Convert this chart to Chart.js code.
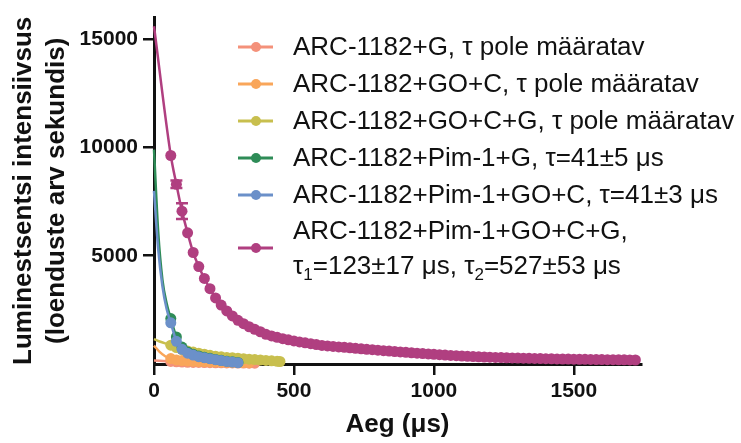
<!DOCTYPE html>
<html>
<head>
<meta charset="utf-8">
<script src="https://cdn.jsdelivr.net/npm/chart.js@4.4.1/dist/chart.umd.min.js"></script>
<style>
    html, body { margin: 0; padding: 0; background: #fff; }
    #wrap { position: relative; width: 741px; height: 443px; }
    #legend {
        position: absolute; left: 238px; top: 28px;
        font-family: "Liberation Sans", Arial, sans-serif; font-size: 26px;
        color: #111; white-space: nowrap;
    }
    .row { display: flex; align-items: center; line-height: 37px; }
    .row.two { line-height: 35px; }
    .row svg { flex: none; margin-right: 20px; }
    .row sub { font-size: 17px; line-height: 0; vertical-align: -6px; }
</style>
</head>
<body>
<div id="wrap">
    <canvas id="chart"></canvas>
    <div id="legend"></div>
</div>
<script>
// legend / series
const seriesLabels = [
    ["ARC-1182+G, τ pole määratav"],
    ["ARC-1182+GO+C, τ pole määratav"],
    ["ARC-1182+GO+C+G, τ pole määratav"],
    ["ARC-1182+Pim-1+G, τ=41±5 μs"],
    ["ARC-1182+Pim-1+GO+C, τ=41±3 μs"],
    ["ARC-1182+Pim-1+GO+C+G,", "τ<sub>1</sub>=123±17 μs, τ<sub>2</sub>=527±53 μs"]
];
const seriesColors = ["#F4917A", "#F9A65A", "#C8BF4E", "#2E8C57", "#6B90C9", "#B03F80"];

// time axis (μs) and intensities (counts per second)
const salmonT = [0, 60, 80, 100, 120, 140, 160, 180, 200, 220, 240, 260, 280, 300, 320, 340, 360];
const salmonY = [160, 120, 100, 90, 80, 75, 70, 65, 60, 55, 55, 50, 50, 45, 45, 40, 40];

const orangeT = [0, 20, 40, 60, 80, 100, 120, 140, 160, 180, 200, 220, 240, 260, 280, 300, 320, 340];
const orangeY = [850, 560, 360, 250, 190, 160, 140, 125, 115, 105, 95, 90, 85, 80, 75, 70, 65, 60];

const yellowT = [0, 20, 40, 60, 80, 100, 120, 140, 160, 180, 200, 220, 240, 260, 280, 300, 320, 340, 360, 380, 400, 420, 440, 450];
const yellowY = [1150, 1040, 950, 870, 760, 660, 600, 550, 500, 450, 400, 360, 330, 305, 285, 265, 245, 225, 205, 185, 165, 145, 125, 115];

const greenT = [0, 15, 30, 45, 60, 80, 100, 120, 140, 160, 180, 200, 220, 240, 260, 280, 300];
const greenY = [9900, 6100, 3900, 2800, 2100, 1250, 780, 560, 450, 370, 310, 260, 210, 170, 130, 100, 70];

const blueT = [0, 15, 30, 45, 60, 80, 100, 120, 140, 160, 180, 200, 220, 240, 260, 280, 300];
const blueY = [8000, 5300, 3600, 2550, 1900, 1050, 680, 500, 410, 340, 290, 245, 200, 160, 120, 90, 60];

const magentaT = [0, 60, 80, 100, 120, 140, 160, 180, 200, 220, 240, 260, 280, 300, 320, 340, 360, 380,
    400, 420, 440, 460, 480, 500, 520, 540, 560, 580, 600, 620, 640, 660, 680, 700, 720, 740, 760, 780,
    800, 820, 840, 860, 880, 900, 920, 940, 960, 980, 1000, 1020, 1040, 1060, 1080, 1100, 1120, 1140,
    1160, 1180, 1200, 1220, 1240, 1260, 1280, 1300, 1320, 1340, 1360, 1380, 1400, 1420, 1440, 1460,
    1480, 1500, 1520, 1540, 1560, 1580, 1600, 1620, 1640, 1660, 1680, 1700, 1720];
const magentaY = [15600, 9630, 8300, 7060, 6060, 5150, 4500, 3950, 3480, 3050, 2720, 2450, 2220, 2020, 1860, 1720, 1600, 1490,
    1370, 1295, 1230, 1170, 1115, 1065, 1020, 977, 937, 898, 860, 835, 812, 790, 768, 746, 724, 702, 680, 659,
    638, 617, 597, 577, 557, 538, 519, 500, 482, 464, 447, 430, 414, 398, 383, 369, 356, 344,
    333, 323, 314, 305, 297, 289, 282, 275, 268, 262, 256, 250, 245, 240, 235, 230,
    226, 222, 218, 214, 210, 206, 203, 200, 197, 194, 191, 188, 185];

// error bars on magenta series
const errT = [80, 100];
const errV = [170, 360];

const xTicks = [0, 500, 1000, 1500];
const yTicks = [5000, 10000, 15000];

const FONT = '"Liberation Sans", Arial, sans-serif';
const INK = "#111";

// legend (html)
const legendDiv = document.getElementById("legend");
seriesLabels.forEach((lines, i) => {
    const row = document.createElement("div");
    row.className = "row" + (lines.length > 1 ? " two" : "");
    row.innerHTML = `<svg width="35" height="12"><line x1="0" y1="6" x2="35" y2="6" stroke="${seriesColors[i]}" stroke-width="3"/>` +
        `<circle cx="18" cy="6" r="5" fill="${seriesColors[i]}"/></svg><div>${lines.join("<br>")}</div>`;
    legendDiv.appendChild(row);
});

function makeSet(t, v, color, order) {
    return {
        data: t.map((x, i) => ({ x: x, y: v[i] })),
        borderColor: color,
        backgroundColor: color,
        borderWidth: 2.5,
        pointRadius: c => (c.raw && c.raw.x >= 60 ? 5.5 : 0),
        pointBorderWidth: 0,
        cubicInterpolationMode: "monotone",
        clip: false,
        order: order
    };
}

const errorBars = {
    id: "errorBars",
    afterDatasetsDraw(chart) {
        const { ctx, scales: { x, y } } = chart;
        ctx.save();
        ctx.strokeStyle = seriesColors[5];
        ctx.lineWidth = 2.5;
        errT.forEach((t, i) => {
            const px = x.getPixelForValue(t);
            const v = magentaY[magentaT.indexOf(t)];
            const top = y.getPixelForValue(v + errV[i]);
            const bot = y.getPixelForValue(v - errV[i]);
            ctx.beginPath();
            ctx.moveTo(px, top); ctx.lineTo(px, bot);
            ctx.moveTo(px - 6, top); ctx.lineTo(px + 6, top);
            ctx.moveTo(px - 6, bot); ctx.lineTo(px + 6, bot);
            ctx.stroke();
        });
        ctx.restore();
    }
};

const axisCommon = {
    grid: { drawOnChartArea: false, color: INK, lineWidth: 2.5, tickLength: 11, tickWidth: 2.5 },
    border: { color: INK, width: 3 },
    ticks: { color: INK, font: { family: FONT, size: 21, weight: "bold" }, callback: v => String(v) }
};

new Chart(document.getElementById("chart"), {
    type: "line",
    data: {
        datasets: [
            makeSet(salmonT, salmonY, seriesColors[0], 5),
            makeSet(orangeT, orangeY, seriesColors[1], 4),
            makeSet(yellowT, yellowY, seriesColors[2], 3),
            makeSet(greenT, greenY, seriesColors[3], 2),
            makeSet(blueT, blueY, seriesColors[4], 1),
            makeSet(magentaT, magentaY, seriesColors[5], 0)
        ]
    },
    options: {
        responsive: true,
        maintainAspectRatio: false,
        animation: false,
        layout: { padding: { top: 15, right: 100, left: 0, bottom: 0 } },
        plugins: { legend: { display: false }, tooltip: { enabled: false } },
        scales: {
            x: {
                type: "linear",
                min: 0,
                max: 1740,
                grid: axisCommon.grid,
                border: axisCommon.border,
                ticks: { ...axisCommon.ticks, padding: 4, maxRotation: 0 },
                afterBuildTicks: s => { s.ticks = xTicks.map(v => ({ value: v })); },
                afterFit: s => { s.height = 79; },
                title: {
                    display: true, text: "Aeg (μs)", color: INK,
                    font: { family: FONT, size: 26, weight: "bold" },
                    padding: { top: 0, bottom: 3 }
                }
            },
            y: {
                type: "linear",
                min: 0,
                max: 16000,
                grid: axisCommon.grid,
                border: axisCommon.border,
                ticks: { ...axisCommon.ticks, padding: 5 },
                afterBuildTicks: s => { s.ticks = yTicks.map(v => ({ value: v })); },
                afterFit: s => { s.width = 154; },
                title: {
                    display: true,
                    text: ["Luminestsentsi intensiivsus", "(loenduste arv sekundis)"],
                    color: INK,
                    font: { family: FONT, size: 26, weight: "bold", lineHeight: 1.27 },
                    padding: { top: 7, bottom: 0 }
                }
            }
        }
    },
    plugins: [errorBars]
});
</script>
</body>
</html>
